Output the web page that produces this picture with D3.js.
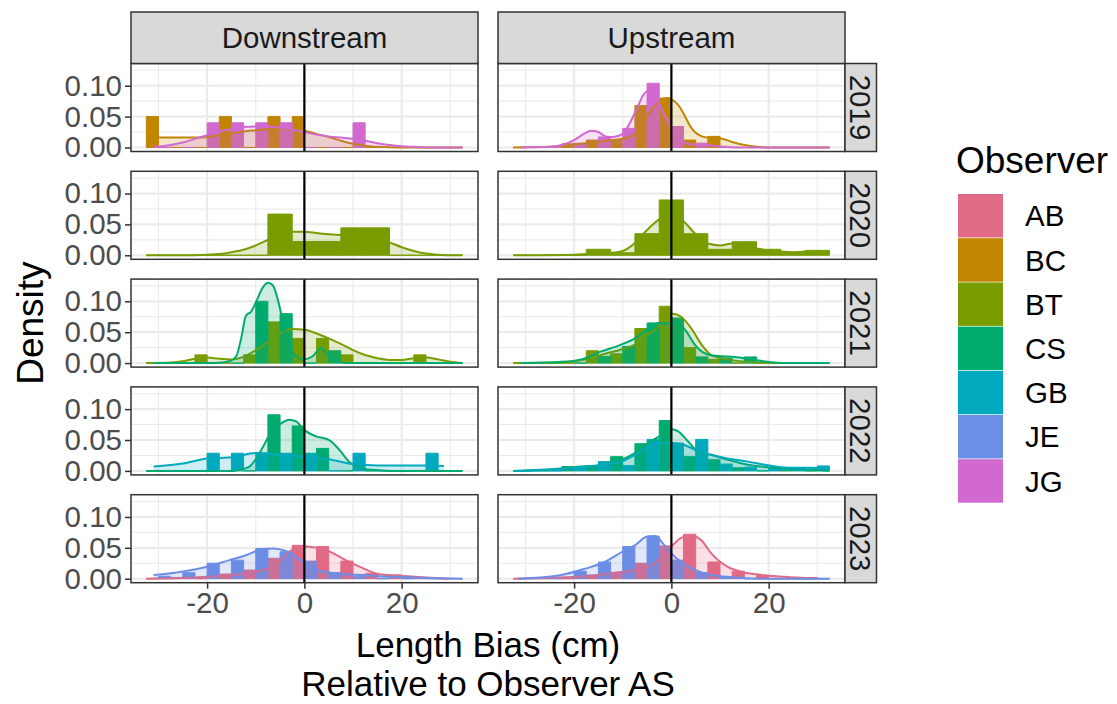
<!DOCTYPE html>
<html>
<head>
<meta charset="utf-8">
<script src="https://cdn.jsdelivr.net/npm/d3@7"></script>
<style>
  body { margin: 0; background: #ffffff; }
  svg { display: block; }
  text { font-family: "Liberation Sans", Arial, Helvetica, sans-serif; }
</style>
</head>
<body>
<svg id="chart" width="1117" height="704"></svg>
<script>
// ---- categories -------------------------------------------------------
const observers = ["AB", "BC", "BT", "CS", "GB", "JE", "JG"];
const observerColours = ["#E16A86", "#C18500", "#799D00", "#00AB6E", "#00A9BE", "#6C8EE6", "#D169D0"];
const sites = ["Downstream", "Upstream"];
const years = ["2019", "2020", "2021", "2022", "2023"];

// histogram bins (width 5 cm), centres
const binCentres = [-30, -25, -20, -15, -10, -5, 0, 5, 10, 15, 20, 25, 30];
const binWidth = 5;

// axis ticks
const xTickValues = [-20, 0, 20];
const xMinorValues = [-30, -10, 10, 30];
const yTickValues = [0, 0.05, 0.10];
const yMinorValues = [0.025, 0.075, 0.125];

// ---- histogram densities per bin --------------------------------------
const bars2019DownBC = [0.05, 0, 0, 0.05, 0, 0.05, 0.05, 0, 0, 0, 0, 0, 0];
const bars2019DownJG = [0, 0, 0.04, 0.04, 0.04, 0.04, 0, 0, 0.04, 0, 0, 0, 0];
const bars2019UpBC   = [0, 0, 0.006, 0.012, 0.012, 0.068, 0.080, 0.012, 0.018, 0, 0, 0, 0];
const bars2019UpJG   = [0, 0, 0.007, 0.017, 0.031, 0.104, 0.034, 0.007, 0, 0, 0, 0, 0];
const bars2020DownBT = [0, 0, 0, 0, 0, 0.0667, 0.0222, 0.0222, 0.0444, 0.0444, 0, 0, 0];
const bars2020UpBT   = [0, 0, 0, 0.0097, 0.004, 0.035, 0.0896, 0.035, 0.0097, 0.022, 0.0097, 0.004, 0.008];
const bars2021DownBT = [0, 0, 0.0133, 0, 0.0133, 0.0667, 0.04, 0.04, 0.0133, 0, 0, 0.0133, 0];
const bars2021DownCS = [0, 0, 0, 0, 0.10, 0.08, 0, 0.02, 0, 0, 0, 0, 0];
const bars2021UpBT   = [0, 0, 0, 0.020, 0.015, 0.056, 0.092, 0.025, 0.006, 0, 0, 0, 0];
const bars2021UpCS   = [0, 0, 0, 0.011, 0.027, 0.065, 0.073, 0.010, 0.008, 0.010, 0, 0, 0];
const bars2022DownCS = [0, 0, 0, 0, 0, 0.0909, 0.0727, 0.0364, 0, 0, 0, 0, 0];
const bars2022DownGB = [0, 0, 0.0286, 0.0286, 0.0286, 0.0286, 0.0286, 0, 0.0286, 0, 0, 0.0286, 0];
const bars2022UpCS   = [0, 0, 0.007, 0.0086, 0.023, 0.044, 0.0815, 0.023, 0.018, 0.005, 0, 0.004, 0];
const bars2022UpGB   = [0, 0, 0.004, 0.015, 0.0086, 0.051, 0.045, 0.051, 0.011, 0.006, 0.004, 0.004, 0.008];
const bars2023DownAB = [0, 0.002, 0, 0.0075, 0.014, 0.033, 0.054, 0.052, 0.0285, 0.0086, 0.006, 0.002, 0];
const bars2023DownJE = [0.004, 0.0097, 0.025, 0.030, 0.049, 0.0436, 0.0285, 0.0097, 0.004, 0, 0, 0, 0];
const bars2023UpAB   = [0, 0, 0, 0.006, 0.010, 0.025, 0.053, 0.072, 0.027, 0.012, 0.005, 0, 0.002];
const bars2023UpJE   = [0, 0, 0.012, 0.027, 0.052, 0.069, 0.030, 0.010, 0.002, 0, 0, 0, 0];

// ---- kernel density curves: [bias (cm), density] ----------------------
const dens2019DownBC = [[-32.5,0.015],[-30,0.016],[-27.5,0.016],[-25,0.016],[-22.5,0.016],[-20,0.017],[-17.5,0.020],[-15,0.023],[-12.5,0.026],[-10,0.028],[-7.5,0.030],[-5,0.030],[-2.5,0.029],[0,0.027],[2.5,0.022],[5,0.017],[7.5,0.011],[10,0.006],[12.5,0.003],[15,0.001],[20,0],[32.5,0]];
const dens2019DownJG = [[-31,0.001],[-27.5,0.004],[-25,0.008],[-22.5,0.014],[-20,0.020],[-17.5,0.026],[-15,0.030],[-12.5,0.033],[-10,0.034],[-7.5,0.034],[-5,0.032],[-2.5,0.029],[0,0.025],[2.5,0.021],[5,0.018],[7.5,0.016],[10,0.014],[12.5,0.011],[15,0.007],[17.5,0.004],[20,0.002],[22.5,0.001],[25,0],[32.5,0]];
const dens2019UpBC   = [[-32.5,0],[-25,0.001],[-22.5,0.003],[-20,0.005],[-17.5,0.007],[-15,0.009],[-12.5,0.012],[-10,0.014],[-7.5,0.022],[-5,0.050],[-2.5,0.075],[-1,0.080],[0,0.078],[1.5,0.068],[2.5,0.055],[4,0.033],[5,0.024],[7.5,0.016],[10,0.015],[12.5,0.009],[15,0.004],[17.5,0.001],[20,0],[32.5,0]];
const dens2019UpJG   = [[-31,0],[-25,0.001],[-22.5,0.004],[-20,0.012],[-18,0.022],[-16.5,0.027],[-15,0.025],[-13.5,0.018],[-12,0.017],[-10,0.022],[-8.5,0.040],[-7,0.065],[-5.5,0.088],[-4.5,0.092],[-3.5,0.088],[-2,0.062],[0,0.033],[1.5,0.015],[3,0.007],[5,0.005],[6.5,0.005],[8.5,0.003],[11,0.001],[13,0],[32.5,0]];
const dens2020DownBT = [[-32.5,0],[-25,0],[-20,0.001],[-17.5,0.002],[-15,0.005],[-12.5,0.009],[-10,0.016],[-7.5,0.025],[-5,0.033],[-2.5,0.038],[0,0.038],[2.5,0.036],[5,0.034],[7.5,0.033],[10,0.033],[12.5,0.032],[15,0.028],[17.5,0.021],[20,0.013],[22.5,0.007],[25,0.003],[27.5,0.001],[30,0],[32.5,0]];
const dens2020UpBT   = [[-32.5,0],[-20,0.001],[-17.5,0.002],[-15,0.003],[-12.5,0.004],[-10,0.007],[-7.5,0.020],[-5,0.041],[-2.5,0.058],[0,0.066],[2.5,0.055],[5,0.034],[7.5,0.019],[10,0.016],[12.5,0.019],[15,0.016],[17.5,0.011],[20,0.008],[22.5,0.006],[25,0.005],[27.5,0.006],[30,0.005],[32.5,0.004]];
const dens2021DownBT = [[-32.5,0],[-27.5,0.001],[-25,0.003],[-22.5,0.007],[-20,0.009],[-17.5,0.007],[-15,0.006],[-12.5,0.010],[-10,0.021],[-7.5,0.034],[-5,0.048],[-2.5,0.055],[0,0.054],[2.5,0.048],[5,0.040],[7.5,0.031],[10,0.021],[12.5,0.013],[15,0.008],[17.5,0.005],[20,0.005],[22.5,0.008],[25,0.009],[27.5,0.006],[30,0.002],[32.5,0]];
const dens2021DownCS = [[-31,0],[-20,0],[-17,0.001],[-15.4,0.003],[-14,0.011],[-13,0.040],[-12,0.077],[-11,0.083],[-10,0.098],[-8.5,0.123],[-7.5,0.130],[-6.5,0.126],[-5.5,0.104],[-4.4,0.067],[-3.1,0.030],[-1.7,0.011],[0,0.006],[1.7,0.011],[3.4,0.0245],[5,0.011],[7.2,0.002],[9,0],[32.5,0]];
const dens2021UpBT   = [[-32.5,0],[-22.5,0.001],[-17.5,0.006],[-13.7,0.015],[-10.3,0.022],[-7.5,0.030],[-4.8,0.046],[-2.7,0.059],[-1,0.072],[0.3,0.080],[2,0.075],[4.1,0.056],[6.2,0.030],[8.2,0.013],[11.6,0.006],[15.7,0.002],[20,0],[32.5,0]];
const dens2021UpCS   = [[-31,0],[-22.5,0.002],[-18.5,0.006],[-14.4,0.019],[-10.3,0.030],[-7.5,0.040],[-4.8,0.056],[-2.7,0.065],[-0.7,0.064],[1,0.066],[3.1,0.051],[4.8,0.030],[7.5,0.014],[10.3,0.011],[13,0.010],[16.4,0.006],[19.8,0.002],[23,0],[32.5,0]];
const dens2022DownCS = [[-32.5,0],[-15,0],[-13.3,0.002],[-11.3,0.007],[-9.9,0.020],[-8.5,0.039],[-7.2,0.058],[-4.8,0.077],[-3.1,0.083],[-1.7,0.080],[0,0.066],[2.4,0.056],[5.1,0.050],[7.2,0.034],[9.2,0.015],[12,0.004],[15.4,0.001],[18,0],[32.5,0]];
const dens2022DownGB = [[-31,0.007],[-25,0.012],[-20,0.020],[-15,0.022],[-10,0.029],[-5,0.026],[0,0.023],[5,0.019],[10,0.011],[15,0.0086],[20,0.0086],[25,0.0086],[28.7,0.008]];
const dens2022UpCS   = [[-32.5,0],[-22.6,0.004],[-18.5,0.007],[-13.7,0.010],[-10.3,0.018],[-7.5,0.029],[-4.8,0.045],[-2,0.058],[0,0.0675],[1.4,0.064],[3.4,0.048],[5.5,0.031],[8.2,0.026],[11.6,0.018],[15.7,0.010],[19.8,0.006],[23.9,0.003],[29.4,0.002],[32.5,0]];
const dens2022UpGB   = [[-32.3,0],[-22.6,0.003],[-17.1,0.007],[-13.7,0.010],[-10.3,0.015],[-7.5,0.026],[-4.8,0.039],[-2,0.045],[0,0.045],[2.7,0.042],[4.8,0.034],[8.2,0.026],[11.6,0.020],[15.7,0.015],[19.8,0.009],[23.9,0.005],[28,0.005],[32.1,0.004]];
const dens2023DownAB = [[-32.5,0],[-25,0.001],[-20,0.003],[-15.4,0.006],[-8.5,0.014],[-5.1,0.027],[-3.1,0.044],[-1.7,0.049],[0,0.052],[2.4,0.050],[5.1,0.044],[8.5,0.030],[12,0.017],[15.4,0.007],[18.8,0.005],[22.9,0.003],[27,0.001],[29.7,0]];
const dens2023DownJE = [[-31,0.006],[-25.6,0.011],[-20.2,0.019],[-15.4,0.030],[-12,0.038],[-8.5,0.048],[-6.5,0.049],[-3.8,0.045],[-1.7,0.035],[0,0.027],[2.4,0.014],[5.1,0.010],[8.5,0.007],[12,0.006],[15.4,0.004],[18.8,0.003],[25.6,0.001],[32.5,0]];
const dens2023UpAB   = [[-32.5,0],[-19,0.003],[-12.3,0.009],[-7.5,0.014],[-4.1,0.022],[-2,0.035],[0,0.052],[2,0.066],[4.1,0.070],[6.2,0.062],[8.2,0.041],[11.6,0.019],[15,0.010],[18.5,0.006],[23.2,0.003],[29.4,0]];
const dens2023UpJE   = [[-31.5,0],[-22.6,0.006],[-17.8,0.016],[-13.7,0.027],[-9.6,0.046],[-7.5,0.054],[-5.1,0.068],[-3.4,0.069],[-1.4,0.054],[0,0.041],[2,0.027],[4.1,0.017],[7.5,0.007],[11.6,0.003],[18,0],[32.5,0]];

// one row per observer within each facet
const series = [
  { year: "2019", site: "Downstream", observer: "BC", bars: bars2019DownBC, density: dens2019DownBC },
  { year: "2019", site: "Downstream", observer: "JG", bars: bars2019DownJG, density: dens2019DownJG },
  { year: "2019", site: "Upstream",   observer: "BC", bars: bars2019UpBC,   density: dens2019UpBC },
  { year: "2019", site: "Upstream",   observer: "JG", bars: bars2019UpJG,   density: dens2019UpJG },
  { year: "2020", site: "Downstream", observer: "BT", bars: bars2020DownBT, density: dens2020DownBT },
  { year: "2020", site: "Upstream",   observer: "BT", bars: bars2020UpBT,   density: dens2020UpBT },
  { year: "2021", site: "Downstream", observer: "BT", bars: bars2021DownBT, density: dens2021DownBT },
  { year: "2021", site: "Downstream", observer: "CS", bars: bars2021DownCS, density: dens2021DownCS },
  { year: "2021", site: "Upstream",   observer: "BT", bars: bars2021UpBT,   density: dens2021UpBT },
  { year: "2021", site: "Upstream",   observer: "CS", bars: bars2021UpCS,   density: dens2021UpCS },
  { year: "2022", site: "Downstream", observer: "CS", bars: bars2022DownCS, density: dens2022DownCS },
  { year: "2022", site: "Downstream", observer: "GB", bars: bars2022DownGB, density: dens2022DownGB },
  { year: "2022", site: "Upstream",   observer: "CS", bars: bars2022UpCS,   density: dens2022UpCS },
  { year: "2022", site: "Upstream",   observer: "GB", bars: bars2022UpGB,   density: dens2022UpGB },
  { year: "2023", site: "Downstream", observer: "AB", bars: bars2023DownAB, density: dens2023DownAB },
  { year: "2023", site: "Downstream", observer: "JE", bars: bars2023DownJE, density: dens2023DownJE },
  { year: "2023", site: "Upstream",   observer: "AB", bars: bars2023UpAB,   density: dens2023UpAB },
  { year: "2023", site: "Upstream",   observer: "JE", bars: bars2023UpJE,   density: dens2023UpJE }
];

// ---- layout -----------------------------------------------------------
const colLeft = [131, 498];
const panelW = 347;
const rowTop0 = 63.5, rowPitch = 107.8, panelH = 88;
const stripTop = 12;
const rightStripW = 31.5;
const smallFont = 29.5, titleFont = 35;
const inkDark = "#333333", tickText = "#4D4D4D", gridCol = "#EBEBEB";

const colour = d3.scaleOrdinal().domain(observers).range(observerColours);
const x = d3.scaleLinear().domain([-35.65, 35.7]).range([0, panelW]);
const y = d3.scaleLinear().domain([-0.0065, 0.136]).range([panelH, 0]);

const svg = d3.select("#chart");
svg.append("rect").attr("width", 1117).attr("height", 704).attr("fill", "#ffffff");
const defs = svg.append("defs");
defs.append("clipPath").attr("id", "panel-clip")
  .append("rect").attr("width", panelW).attr("height", panelH);

const area = d3.area().x(d => x(d[0])).y0(y(0)).y1(d => y(d[1])).curve(d3.curveMonotoneX);
const line = d3.line().x(d => x(d[0])).y(d => y(d[1])).curve(d3.curveMonotoneX);

years.forEach((yr, r) => {
  const top = rowTop0 + r * rowPitch;
  sites.forEach((site, c) => {
    const g = svg.append("g").attr("transform", `translate(${colLeft[c]},${top})`);
    const inner = g.append("g").attr("clip-path", "url(#panel-clip)");

    // grid
    inner.selectAll(".gx-minor").data(xMinorValues).join("line")
      .attr("x1", d => x(d)).attr("x2", d => x(d)).attr("y1", 0).attr("y2", panelH)
      .attr("stroke", gridCol).attr("stroke-width", 1.1);
    inner.selectAll(".gy-minor").data(yMinorValues).join("line")
      .attr("y1", d => y(d)).attr("y2", d => y(d)).attr("x1", 0).attr("x2", panelW)
      .attr("stroke", gridCol).attr("stroke-width", 1.1);
    inner.selectAll(".gx-major").data(xTickValues).join("line")
      .attr("x1", d => x(d)).attr("x2", d => x(d)).attr("y1", 0).attr("y2", panelH)
      .attr("stroke", gridCol).attr("stroke-width", 2.2);
    inner.selectAll(".gy-major").data(yTickValues).join("line")
      .attr("y1", d => y(d)).attr("y2", d => y(d)).attr("x1", 0).attr("x2", panelW)
      .attr("stroke", gridCol).attr("stroke-width", 2.2);

    const groups = series.filter(s => s.year === yr && s.site === site);
    const nG = groups.length;

    // dodged histogram bars
    groups.forEach((s, k) => {
      const col = colour(s.observer);
      inner.append("g").selectAll("path").data(s.bars.map((v, i) => ({ c: binCentres[i], v })))
        .join("path")
        .attr("d", d => {
          const x0 = x(d.c - binWidth / 2 + k * binWidth / nG);
          const x1 = x(d.c - binWidth / 2 + (k + 1) * binWidth / nG);
          const y0 = y(0), y1 = y(d.v);
          return `M${x0},${y0}H${x1}V${y1}H${x0}Z`;
        })
        .attr("fill", col).attr("stroke", col).attr("stroke-width", 1);
    });

    // density curves
    groups.forEach(s => {
      const col = colour(s.observer);
      inner.append("path").datum(s.density).attr("d", area)
        .attr("fill", col).attr("fill-opacity", 0.2).attr("stroke", "none");
      inner.append("path").datum(s.density).attr("d", line)
        .attr("fill", "none").attr("stroke", col).attr("stroke-width", 2);
    });

    // reference line at zero bias
    inner.append("line").attr("x1", x(0)).attr("x2", x(0)).attr("y1", 0).attr("y2", panelH)
      .attr("stroke", "#000000").attr("stroke-width", 2.2);

    // panel border
    g.append("rect").attr("width", panelW).attr("height", panelH)
      .attr("fill", "none").attr("stroke", inkDark).attr("stroke-width", 1.5);

    // y axis on the left column
    if (c === 0) {
      const ax = g.append("g").call(d3.axisLeft(y).tickValues(yTickValues)
        .tickFormat(d3.format(".2f")).tickSize(6).tickPadding(3));
      ax.select(".domain").remove();
      ax.selectAll(".tick line").attr("stroke", inkDark).attr("stroke-width", 1.5);
      ax.selectAll(".tick text").attr("fill", tickText).attr("font-size", smallFont)
        .attr("font-family", "Liberation Sans, Arial, sans-serif");
    }
    // x axis under the bottom row
    if (r === years.length - 1) {
      const ax = g.append("g").attr("transform", `translate(0,${panelH})`)
        .call(d3.axisBottom(x).tickValues(xTickValues).tickFormat(d => String(d)).tickSize(6).tickPadding(3));
      ax.select(".domain").remove();
      ax.selectAll(".tick line").attr("stroke", inkDark).attr("stroke-width", 1.5);
      ax.selectAll(".tick text").attr("fill", tickText).attr("font-size", smallFont)
        .attr("font-family", "Liberation Sans, Arial, sans-serif");
    }
    // site strips above the top row
    if (r === 0) {
      svg.append("rect").attr("x", colLeft[c]).attr("y", stripTop)
        .attr("width", panelW).attr("height", rowTop0 - stripTop)
        .attr("fill", "#D9D9D9").attr("stroke", inkDark).attr("stroke-width", 1.5);
      svg.append("text").attr("x", colLeft[c] + panelW / 2).attr("y", (stripTop + rowTop0) / 2)
        .attr("dy", "0.36em").attr("text-anchor", "middle")
        .attr("font-size", smallFont).attr("fill", "#1A1A1A").text(site);
    }
  });

  // year strip at the right of each row
  const sx = colLeft[1] + panelW;
  svg.append("rect").attr("x", sx).attr("y", top).attr("width", rightStripW).attr("height", panelH)
    .attr("fill", "#D9D9D9").attr("stroke", inkDark).attr("stroke-width", 1.5);
  svg.append("text")
    .attr("transform", `translate(${sx + rightStripW / 2},${top + panelH / 2}) rotate(90)`)
    .attr("dy", "0.36em").attr("text-anchor", "middle")
    .attr("font-size", smallFont).attr("fill", "#1A1A1A").text(yr);
});

// axis titles
const midX = (colLeft[0] + colLeft[1] + panelW) / 2;
svg.append("text").attr("x", midX).attr("y", 657).attr("text-anchor", "middle")
  .attr("font-size", titleFont).attr("fill", "#000").text("Length Bias (cm)");
svg.append("text").attr("x", midX).attr("y", 695.5).attr("text-anchor", "middle")
  .attr("font-size", titleFont).attr("fill", "#000").text("Relative to Observer AS");
const midY = rowTop0 + ((years.length - 1) * rowPitch + panelH) / 2;
svg.append("text").attr("transform", `translate(43,${midY}) rotate(-90)`)
  .attr("text-anchor", "middle").attr("font-size", 37).attr("fill", "#000").text("Density");

// legend
const legX = 958, legTop = 194, keyW = 45, keyH = 43.5, keyPitch = 44.2;
svg.append("text").attr("x", legX - 2).attr("y", 173).attr("font-size", 37).attr("fill", "#000").text("Observer");
const leg = svg.append("g").selectAll("g").data(observers).join("g")
  .attr("transform", (d, i) => `translate(${legX},${legTop + i * keyPitch})`);
leg.append("rect").attr("width", keyW).attr("height", keyH).attr("fill", d => colour(d));
leg.append("text").attr("x", 67).attr("y", keyH / 2).attr("dy", "0.36em")
  .attr("font-size", smallFont).attr("fill", "#000").text(d => d);
</script>
</body>
</html>
